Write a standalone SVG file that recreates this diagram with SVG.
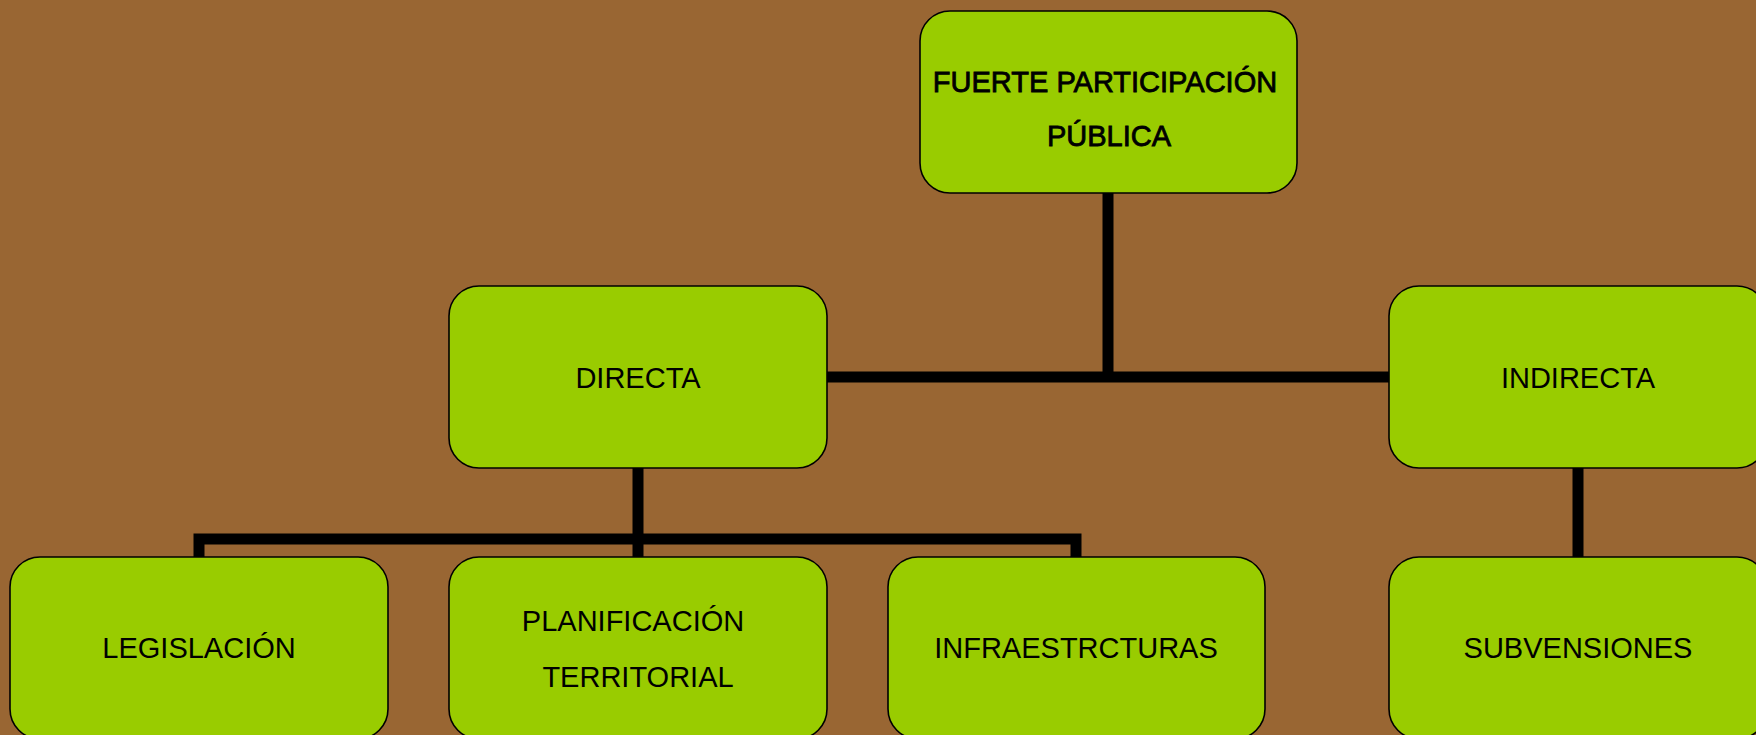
<svg xmlns="http://www.w3.org/2000/svg" width="1756" height="735" viewBox="0 0 1756 735">
<style>
.box{fill:#99CC00;stroke:#000;stroke-width:1.6}
.t{font-family:"Liberation Sans",Arial,sans-serif;font-size:29px;fill:#000;text-anchor:middle}
.tb{stroke:#000;stroke-width:0.8}
.c{fill:none;stroke:#000;stroke-width:11;stroke-linejoin:miter;stroke-linecap:butt}
</style>
<rect width="1756" height="735" fill="#996633"/>
<g id="connectors">
<path class="c" d="M1108,193 V382"/>
<path class="c" d="M827,377 H1389"/>
<path class="c" d="M638,468 V557"/>
<path class="c" d="M199,557 V539 H1076 V557"/>
<path class="c" d="M1578,468 V557"/>
</g>
<g id="n-fuerte">
<rect class="box" x="920" y="11" width="377" height="182" rx="30"/>
<text class="t tb" x="1105" y="92">FUERTE PARTICIPACIÓN</text>
<text class="t tb" x="1109" y="146">PÚBLICA</text>
</g>
<g id="n-directa">
<rect class="box" x="449" y="286" width="378" height="182" rx="30"/>
<text class="t" x="638" y="388">DIRECTA</text>
</g>
<g id="n-indirecta">
<rect class="box" x="1389" y="286" width="378" height="182" rx="30"/>
<text class="t" x="1578" y="388">INDIRECTA</text>
</g>
<g id="n-legislacion">
<rect class="box" x="10" y="557" width="378" height="182" rx="30"/>
<text class="t" x="199" y="658">LEGISLACIÓN</text>
</g>
<g id="n-planificacion">
<rect class="box" x="449" y="557" width="378" height="182" rx="30"/>
<text class="t" x="633" y="631">PLANIFICACIÓN</text>
<text class="t" x="638" y="687">TERRITORIAL</text>
</g>
<g id="n-infra">
<rect class="box" x="888" y="557" width="377" height="182" rx="30"/>
<text class="t" x="1076" y="658">INFRAESTRCTURAS</text>
</g>
<g id="n-subvensiones">
<rect class="box" x="1389" y="557" width="378" height="182" rx="30"/>
<text class="t" x="1578" y="658">SUBVENSIONES</text>
</g>
</svg>
